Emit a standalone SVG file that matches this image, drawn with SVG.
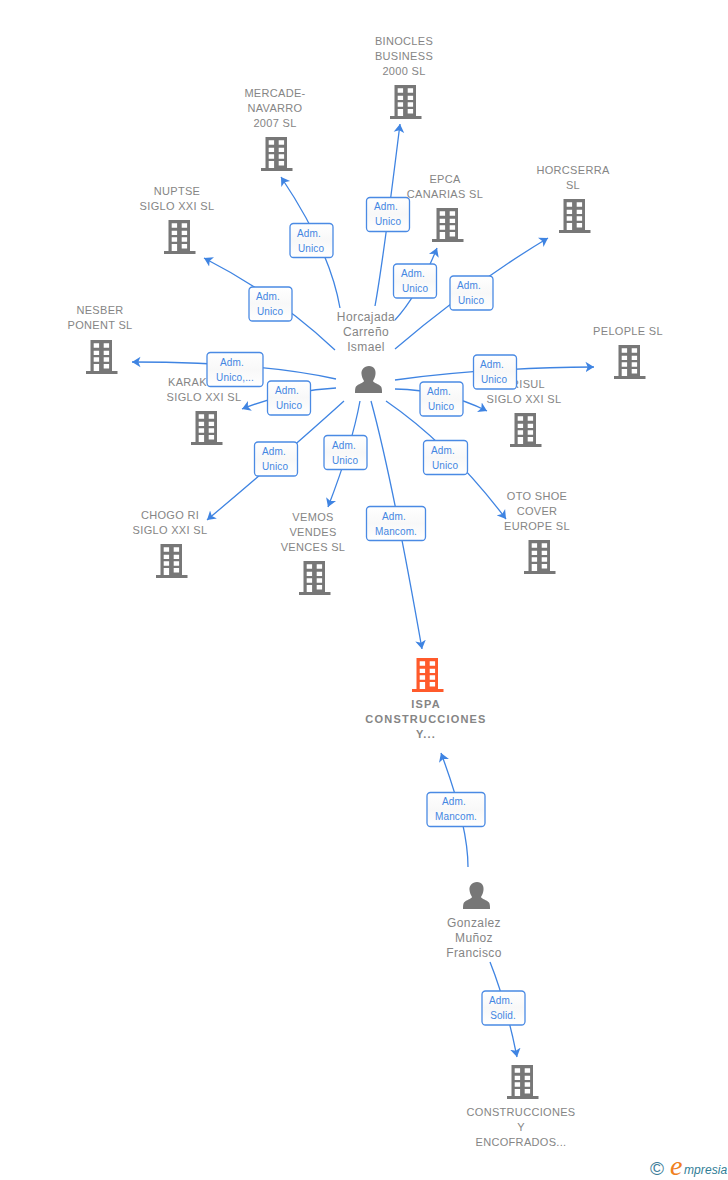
<svg xmlns="http://www.w3.org/2000/svg" width="728" height="1180" viewBox="0 0 728 1180">
<style>
text{font-family:"Liberation Sans",Arial,sans-serif}
.n{font-size:11px;fill:#858585;text-anchor:middle;letter-spacing:.32px}
.p{font-size:12px;fill:#858585;text-anchor:middle;letter-spacing:.4px}
.b{font-size:11px;font-weight:bold;fill:#858585;text-anchor:middle;letter-spacing:1.2px}
.e{fill:none;stroke:#3f84e2;stroke-width:1.3;marker-end:url(#a)}
.l rect{fill:url(#g);stroke:#4a8ae4;stroke-width:1.3}
.l text{font-size:10px;fill:#4486e2;text-anchor:middle;letter-spacing:.12px}
</style>
<defs>
<linearGradient id="g" x1="0" y1="0" x2="0" y2="1"><stop offset="0" stop-color="#fff"/><stop offset=".5" stop-color="#f8f8f8"/><stop offset="1" stop-color="#fff"/></linearGradient>
<marker id="a" viewBox="0 -6 9 12" refX="8.500" refY="0" markerWidth="9" markerHeight="12" markerUnits="userSpaceOnUse" orient="auto"><path d="M0,-5.300 L8.500,0 L0,5.300 L2.200,0Z" fill="#3f84e2"/></marker>
<path id="w" fill="#fff" d="M7.700,3.300h5.400v4.400h-5.400zM17.700,3.300h5.400v4.400h-5.400zM7.700,10.700h5.400v4.300h-5.400zM17.700,10.700h5.400v4.300h-5.400zM7.700,17.300h5.400v4.400h-5.400zM17.700,17.300h5.400v4.400h-5.400zM7.700,24h5.400v7h-5.400zM17.700,24h5.400v4.400h-5.400z"/>
<g id="bg"><path fill="#777" d="M4.500,0H26V31H31.500V34H0V31H4.500Z"/><use href="#w"/></g>
<g id="bo"><path fill="#ff5a2b" d="M4.500,0H26V31H31.500V34H0V31H4.500Z"/><use href="#w"/></g>
<path id="u" fill="#777" d="M14,0C19,0 21,4 20.500,8C20.300,11 19,13 18,15C18.500,17 24,18 26,20.500C27,22 27,25 27,27H0C0,25 0,22 1,20.500C3,18 8.500,17 9,15C8,13 6.700,11 6.500,8C6,4 9,0 14,0Z"/>
</defs>
<rect width="728" height="1180" fill="#fff"/>
<g id="connectors">
<path class="e" d="M375,306 Q383,262 400,124"/>
<path class="e" d="M340,308 Q330,250 281,177"/>
<path class="e" d="M335,350 Q278,296 204,258"/>
<path class="e" d="M336,379 Q260,362 132,362"/>
<path class="e" d="M336,388 Q290,390 242,409"/>
<path class="e" d="M344,401 Q290,450 207,520"/>
<path class="e" d="M360,401 Q352,445 328,507"/>
<path class="e" d="M371,401 Q392,478 422,649"/>
<path class="e" d="M386,401 Q450,445 506,519"/>
<path class="e" d="M395,389 Q445,390 487,411"/>
<path class="e" d="M395,380 Q480,368 594,367"/>
<path class="e" d="M395,349 Q470,285 548,238"/>
<path class="e" d="M395,320 Q418,295 437,248"/>
<path class="e" d="M468,867 Q468,825 441,753"/>
<path class="e" d="M490,962 Q506,1002 517,1057"/>
</g>
<g id="n-binocles"><text class="n" x="404" y="45">BINOCLES</text><text class="n" x="404" y="60">BUSINESS</text><text class="n" x="404" y="75">2000 SL</text><use href="#bg" x="390" y="85"/></g>
<g id="n-mercade"><text class="n" x="275" y="97">MERCADE-</text><text class="n" x="275" y="112">NAVARRO</text><text class="n" x="275" y="127">2007 SL</text><use href="#bg" x="261" y="137"/></g>
<g id="n-nuptse"><text class="n" x="177" y="195">NUPTSE</text><text class="n" x="177" y="210">SIGLO XXI SL</text><use href="#bg" x="164" y="220"/></g>
<g id="n-nesber"><text class="n" x="100" y="314">NESBER</text><text class="n" x="100" y="329">PONENT SL</text><use href="#bg" x="86" y="340"/></g>
<g id="n-karak"><text class="n" x="168" y="386" style="text-anchor:start">KARAK</text><text class="n" x="204" y="401">SIGLO XXI SL</text><use href="#bg" x="191" y="411"/></g>
<g id="n-chogo"><text class="n" x="170" y="519">CHOGO RI</text><text class="n" x="170" y="534">SIGLO XXI SL</text><use href="#bg" x="156" y="544"/></g>
<g id="n-vemos"><text class="n" x="313" y="521">VEMOS</text><text class="n" x="313" y="536">VENDES</text><text class="n" x="313" y="551">VENCES SL</text><use href="#bg" x="299" y="561"/></g>
<g id="n-oto"><text class="n" x="537" y="500">OTO SHOE</text><text class="n" x="537" y="515">COVER</text><text class="n" x="537" y="530">EUROPE SL</text><use href="#bg" x="524" y="540"/></g>
<g id="n-risul"><text class="n" x="545" y="388" style="text-anchor:end">RISUL</text><text class="n" x="524" y="403">SIGLO XXI SL</text><use href="#bg" x="510" y="413"/></g>
<g id="n-pelople"><text class="n" x="628" y="335">PELOPLE SL</text><use href="#bg" x="614" y="345"/></g>
<g id="n-horcserra"><text class="n" x="573" y="174">HORCSERRA</text><text class="n" x="573" y="189">SL</text><use href="#bg" x="559" y="199"/></g>
<g id="n-epca"><text class="n" x="445" y="183">EPCA</text><text class="n" x="445" y="198">CANARIAS SL</text><use href="#bg" x="432" y="208"/></g>
<g id="n-ispa"><use href="#bo" x="412" y="658"/><text class="b" x="426" y="708">ISPA</text><text class="b" x="426" y="723">CONSTRUCCIONES</text><text class="b" x="426" y="738">Y...</text></g>
<g id="n-constr"><use href="#bg" x="507" y="1065"/><text class="n" x="521" y="1116">CONSTRUCCIONES</text><text class="n" x="521" y="1131">Y</text><text class="n" x="521" y="1146">ENCOFRADOS...</text></g>
<g id="n-horcajada"><text class="p" x="366" y="321">Horcajada</text><text class="p" x="366" y="336">Carreño</text><text class="p" x="366" y="351">Ismael</text><use href="#u" x="355" y="366"/></g>
<g id="n-gonzalez"><use href="#u" x="463" y="882"/><text class="p" x="474" y="927">Gonzalez</text><text class="p" x="474" y="942">Muñoz</text><text class="p" x="474" y="957">Francisco</text></g>
<g id="edge-labels" class="l">
<g><rect x="366.500" y="197.500" width="43" height="34" rx="3.500"/><text x="386" y="210">Adm.</text><text x="388" y="225">Unico</text></g>
<g><rect x="290" y="223.500" width="43" height="34" rx="3.500"/><text x="309" y="237">Adm.</text><text x="311" y="252">Unico</text></g>
<g><rect x="249" y="287" width="43" height="34" rx="3.500"/><text x="268" y="300">Adm.</text><text x="270" y="315">Unico</text></g>
<g><rect x="207" y="352.500" width="56" height="34" rx="3.500"/><text x="232" y="366">Adm.</text><text x="235" y="381">Unico,...</text></g>
<g><rect x="267.500" y="381" width="43" height="34" rx="3.500"/><text x="287" y="394">Adm.</text><text x="289" y="409">Unico</text></g>
<g><rect x="254.500" y="442" width="43" height="34" rx="3.500"/><text x="274" y="455">Adm.</text><text x="275" y="470">Unico</text></g>
<g><rect x="324" y="435.500" width="43" height="34" rx="3.500"/><text x="344" y="449">Adm.</text><text x="345" y="464">Unico</text></g>
<g><rect x="366.500" y="506.500" width="59" height="34" rx="3.500"/><text x="394" y="520">Adm.</text><text x="396" y="535">Mancom.</text></g>
<g><rect x="423.500" y="440.500" width="44" height="34" rx="3.500"/><text x="443" y="454">Adm.</text><text x="445" y="469">Unico</text></g>
<g><rect x="420" y="382" width="43" height="34" rx="3.500"/><text x="439" y="395">Adm.</text><text x="441" y="410">Unico</text></g>
<g><rect x="473.500" y="355" width="43" height="34" rx="3.500"/><text x="492" y="368">Adm.</text><text x="494" y="383">Unico</text></g>
<g><rect x="450" y="276" width="43" height="34" rx="3.500"/><text x="469" y="289">Adm.</text><text x="471" y="304">Unico</text></g>
<g><rect x="393.500" y="264" width="43" height="34" rx="3.500"/><text x="413" y="277">Adm.</text><text x="415" y="292">Unico</text></g>
<g><rect x="427" y="792.500" width="58" height="34" rx="3.500"/><text x="454" y="805">Adm.</text><text x="456" y="820">Mancom.</text></g>
<g><rect x="482" y="991" width="43" height="34" rx="3.500"/><text x="501" y="1004">Adm.</text><text x="503" y="1019">Solid.</text></g>
</g>
<g id="logo"><text x="650" y="1175" font-size="19" fill="#3d7d99">©</text><text x="670" y="1175" font-size="28" font-style="italic" fill="#f08020" style="font-family:'Liberation Serif',serif">e</text><text x="684" y="1174" font-size="12" font-style="italic" letter-spacing=".1" fill="#2f7d96">mpresia</text></g>
</svg>
